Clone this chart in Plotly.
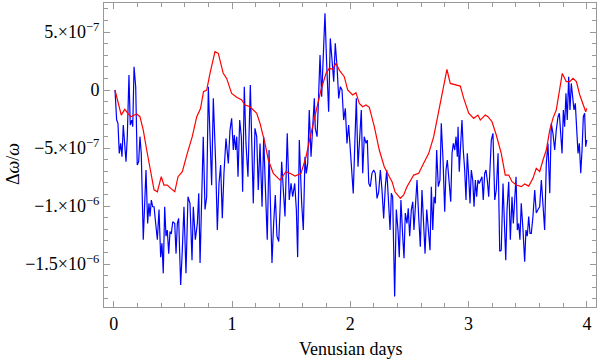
import numpy as np
import plotly.graph_objects as go

# Blue series (noisy), x in Venusian days, y in units of 1e-7
blue_x = [0.011,0.025,0.036,0.047,0.059,0.070,0.081,0.093,0.104,0.115,0.129,0.140,0.152,0.161,0.172,0.186,0.199,0.211,0.222,0.233,
0.250,0.262,0.273,0.287,0.298,0.307,0.318,0.330,0.341,0.355,0.369,0.383,0.397,0.408,0.419,0.431,0.442,0.453,0.465,0.476,
0.487,0.499,0.516,0.527,0.538,0.549,0.566,0.580,0.594,0.611,0.628,0.645,0.662,0.673,0.690,0.707,0.719,0.730,0.741,0.757,
0.772,0.786,0.800,0.814,0.828,0.842,0.862,0.876,0.890,0.904,0.918,0.932,0.949,0.969,0.983,0.997,1.011,1.019,1.031,1.040,
1.051,1.065,1.079,1.090,1.104,1.118,1.135,1.155,1.169,1.180,1.194,1.209,1.222,1.237,1.254,1.268,1.281,1.298,1.313,1.324,
1.338,1.352,1.366,1.380,1.395,1.406,1.420,1.434,1.448,1.467,1.484,1.499,1.513,1.530,1.544,1.555,1.569,1.589,1.603,1.617,
1.628,1.640,1.653,1.668,1.682,1.696,1.704,1.719,1.730,1.744,1.758,1.772,1.786,1.800,1.817,1.831,1.845,1.860,1.873,1.888,
1.902,1.916,1.930,1.944,1.958,1.972,1.986,2.000,2.014,2.025,2.040,2.051,2.065,2.079,2.093,2.105,2.118,2.133,2.144,2.156,
2.169,2.183,2.198,2.211,2.226,2.240,2.254,2.268,2.282,2.296,2.308,2.321,2.336,2.347,2.358,2.367,2.375,2.389,2.403,2.414,
2.428,2.443,2.454,2.465,2.479,2.490,2.502,2.516,2.528,2.538,2.550,2.564,2.578,2.592,2.606,2.620,2.632,2.646,2.659,2.674,
2.685,2.697,2.708,2.719,2.730,2.744,2.758,2.769,2.784,2.798,2.809,2.820,2.834,2.849,2.860,2.871,2.883,2.894,2.905,2.911,
2.921,2.933,2.944,2.955,2.967,2.978,2.989,3.001,3.012,3.023,3.035,3.046,3.057,3.068,3.079,3.090,3.102,3.113,3.124,3.136,
3.147,3.158,3.170,3.181,3.192,3.206,3.221,3.234,3.249,3.263,3.276,3.291,3.305,3.314,3.325,3.339,3.353,3.367,3.378,3.390,
3.401,3.412,3.423,3.434,3.445,3.460,3.474,3.485,3.496,3.508,3.519,3.530,3.544,3.559,3.572,3.587,3.601,3.615,3.626,3.643,
3.657,3.671,3.686,3.699,3.713,3.728,3.741,3.756,3.767,3.779,3.790,3.801,3.812,3.823,3.834,3.846,3.857,3.868,3.880,3.891,
3.902,3.914,3.925,3.936,3.948,3.959,3.970,3.981,3.990,3.999]
blue_y = [0,-2.59,-2.87,-5.46,-4.6,-5.75,-3.02,-5.17,-6.18,-4.02,1.29,-3.02,-2.59,-3.16,2.01,0.29,-6.47,-6.18,-4.02,-5.46,
-12.9,-9.77,-6.9,-11.5,-9.77,-10.9,-9.48,-10.06,-10.06,-11.5,-12.9,-10.3,-14.4,-13.2,-15.8,-10.06,-12.6,-12.07,-14.1,-12.2,
-12.4,-11.35,-11.5,-14.1,-11.5,-11.06,-16.8,-13.8,-10.06,-15.8,-9.2,-9.77,-14.66,-10.06,-12.9,-11.5,-8.9,-14.9,-9.2,-4.02,
-10.3,-9.2,0.29,-4.02,-8.2,-0.72,-6.32,-12.07,-8.05,-6.47,-11.06,-7.18,-4.17,-6.32,-3.45,-2.44,-5.17,-3.88,-5.17,-4.02,
-7.47,-2.59,-4.02,-8.77,0.29,-4.6,-7.47,0.43,-4.6,-9.77,-3.3,-4.02,-8.62,-4.6,-10.06,-4.02,-8.05,-12.9,-5.17,-9.2,
-14.9,-11.5,-9.05,-12.6,-13.05,-10.3,-6.18,-8.62,-10.9,-3.73,-9.48,-8.05,-9.2,-8.05,-10.3,-14.4,-4.31,-9.77,-12.07,-5.75,
-7.18,-6.32,-1.72,-5.75,-2.87,-0.72,-3.3,-4.02,-1.15,3.02,-0.57,3.16,6.61,2.3,-1.87,4.45,2.44,0.72,4.02,2.01,
-0.72,0.29,0,-2.59,-1.58,-4.6,-3.02,-5.17,-7.18,-8.91,-4.02,-0.72,-6.61,-3.88,-1.72,-7.18,-4.02,-4.6,-4.31,-8.05,
-8.33,-7.18,-6.9,-7.18,-9.34,-8.77,-6.9,-8.62,-11.06,-8.33,-6.9,-9.2,-12.07,-8.9,-9.2,-13.8,-17.8,-10.3,-12.07,-14.4,
-9.48,-12.6,-14.5,-10.6,-11.5,-10.2,-12.6,-10.3,-9.63,-12.07,-9.48,-7.76,-10.9,-13.5,-8.62,-12.07,-14.1,-10.3,-12.07,-13.8,
-8.33,-12.07,-9.2,-9.77,-5.17,-8.33,-7.76,-2.87,-6.03,-10.5,-6.9,-6.03,-7.76,-9.63,-5.46,-4.6,-5.17,-4.02,-5.75,-3.16,
-7.04,-4.02,-2.59,-5.17,-6.9,-9.48,-5.46,-7.47,-9.77,-6.9,-7.76,-10.06,-7.76,-9.2,-7.76,-8.05,-7.76,-7.47,-9.48,-7.18,
-6.9,-7.76,-9.2,-7.18,-4.31,-3.73,-9.48,-8.62,-5.46,-13.9,-13.8,-8.05,-13.2,-14.66,-10.3,-7.9,-12.9,-9.2,-11.5,-8.62,
-7.47,-12.07,-11.5,-12.9,-9.77,-12.07,-14.8,-12.07,-12.6,-10.9,-12.36,-12.36,-10.9,-8.62,-10.6,-10.3,-10.06,-7.76,-9.2,-12.07,
-6.32,-4.6,-8.9,-2.87,-3.73,-5.17,-3.45,-2.3,-2.0,-4.31,-5.46,-1.72,-3.16,-0.29,-2.59,1.15,-1.72,0.57,-0.57,-1.72,
-1.15,-3.16,-5.46,-4.6,-7.18,-5.17,-2.3,-2.0,-4.89,-4.31]

# Red series (smoothed)
red_x = [0.011,0.064,0.093,0.121,0.144,0.166,0.194,0.222,0.250,0.279,0.313,0.341,0.369,0.402,0.425,0.453,0.482,0.516,0.544,0.580,
0.622,0.664,0.702,0.734,0.759,0.786,0.814,0.856,0.884,0.926,0.955,0.997,1.040,1.082,1.110,1.152,1.180,1.209,1.237,1.279,
1.307,1.349,1.406,1.456,1.490,1.533,1.583,1.626,1.668,1.710,1.752,1.795,1.822,1.851,1.879,1.907,1.949,1.978,2.020,2.048,
2.076,2.105,2.133,2.161,2.203,2.245,2.287,2.330,2.353,2.378,2.423,2.451,2.479,2.536,2.578,2.620,2.663,2.705,2.747,2.775,
2.803,2.817,2.845,2.888,2.930,2.959,3.001,3.043,3.079,3.099,3.141,3.164,3.198,3.234,3.276,3.310,3.339,3.367,3.403,3.445,
3.474,3.508,3.544,3.572,3.601,3.629,3.657,3.686,3.713,3.741,3.770,3.792,3.826,3.855,3.883,3.911,3.940,3.968,3.990,3.999]
red_y = [0,-2.16,-1.67,-2.0,-2.3,-2.2,-2.07,-2.3,-3.45,-5.17,-7.2,-8.6,-8.77,-7.47,-8.2,-8.2,-8.48,-8.77,-7.47,-7.04,
-5.46,-4.02,-2.3,-1.6,-0.15,0,1.43,3.3,3.16,1.44,1.0,-0.29,-0.63,-0.86,-1.29,-1.44,-1.72,-2.0,-2.87,-4.6,
-6.03,-7.18,-7.76,-7.04,-7.18,-7.41,-7.18,-5.75,-3.73,-1.72,0,1.44,1.87,1.78,2.3,1.72,1.15,0,-0.43,-0.23,
-1.15,-1.44,-1.29,-1.49,-3.16,-5.17,-6.61,-7.47,-7.9,-8.77,-9.34,-9.05,-8.33,-7.33,-7.18,-6.32,-5.46,-4.02,-1.72,-0.43,
1.15,1.78,0.57,0.43,0.34,-0.72,-2.0,-2.44,-2.16,-2.59,-2.16,-2.3,-2.73,-3.88,-5.46,-7.33,-7.33,-7.9,-8.19,-8.33,
-8.1,-8.28,-7.61,-6.75,-7.04,-6.03,-5.17,-3.45,-2.44,-1.72,0,1.43,0.72,0.72,1.0,0.72,-0.43,-1.15,-1.87,-1.58]

y_tick_vals = [5e-7, 0, -5e-7, -1e-6, -1.5e-6]
y_tick_text = ["5.×10<sup>−7</sup>", "0", "−5.×10<sup>−7</sup>", "−1.×10<sup>−6</sup>", "−1.5×10<sup>−6</sup>"]
x_tick_vals = [0, 1, 2, 3, 4]
x_tick_text = ["0", "1", "2", "3", "4"]

SCALE = 1e-7
fig = go.Figure()
fig.add_trace(go.Scatter(x=blue_x, y=np.array(blue_y) * SCALE, mode="lines",
                         line=dict(color="#0000ff", width=1.2), showlegend=False))
fig.add_trace(go.Scatter(x=red_x, y=np.array(red_y) * SCALE, mode="lines",
                         line=dict(color="#ff0000", width=1.2), showlegend=False))

font = dict(family="Liberation Serif, Times New Roman, serif", size=18, color="#000000")
axis_common = dict(showline=True, linecolor="#999999", linewidth=1, mirror="allticks",
                   ticks="inside", tickcolor="#999999", showgrid=False, zeroline=False,
                   tickfont=font)

fig.update_xaxes(range=[-0.082, 4.077], tickvals=x_tick_vals, ticktext=x_tick_text,
                 ticklen=6, tickwidth=1,
                 minor=dict(dtick=0.2, tick0=0, ticks="inside", ticklen=4, tickcolor="#999999", showgrid=False),
                 **axis_common)
fig.update_yaxes(range=[-1.87e-6, 7.5e-7], tickvals=y_tick_vals, ticktext=y_tick_text,
                 ticklen=6, tickwidth=1,
                 minor=dict(dtick=1e-7, tick0=0, ticks="inside", ticklen=4, tickcolor="#999999", showgrid=False),
                 **axis_common)

fig.update_layout(
    width=600, height=361,
    margin=dict(l=104, r=4, t=3, b=54),
    paper_bgcolor="white", plot_bgcolor="white",
    font=font,
    annotations=[
        dict(text="Venusian days", xref="paper", yref="paper", x=0.5, y=-0.138,
             xanchor="center", yanchor="middle", showarrow=False, font=font),
        dict(text="Δ<i>ω</i>/<i>ω</i>", xref="paper", yref="paper", x=-0.185, y=0.47,
             xanchor="center", yanchor="middle", textangle=-90, showarrow=False, font=font),
    ],
)
fig.write_html("out.html", config={"displayModeBar": False},
               post_script="document.body.style.margin='0';document.body.style.overflow='hidden';")
